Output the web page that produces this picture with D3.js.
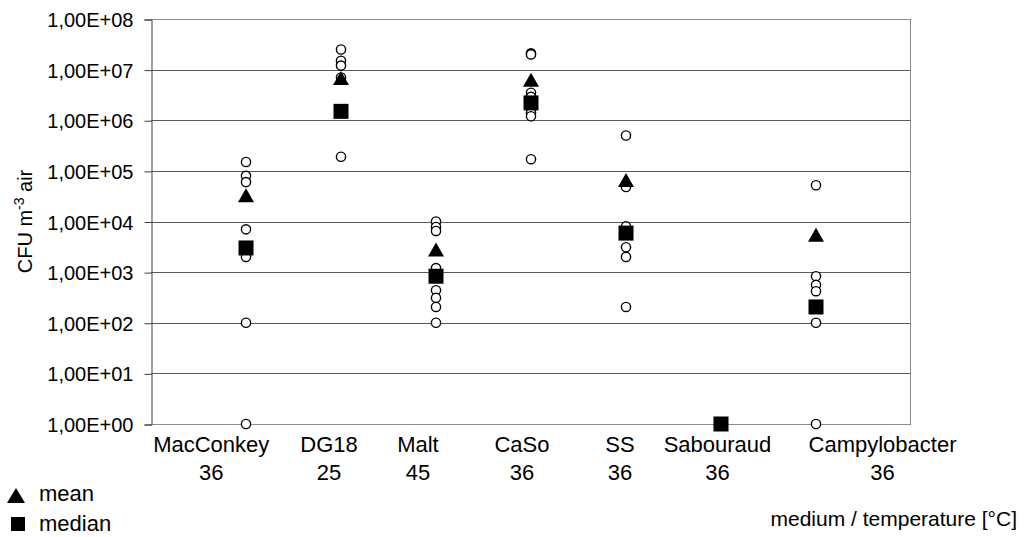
<!DOCTYPE html>
<html>
<head>
<meta charset="utf-8">
<script src="https://cdn.jsdelivr.net/npm/d3@7"></script>
<style>
  body { margin: 0; background: #fff; }
  text { font-family: "Liberation Sans", Arial, sans-serif; fill: #000; }
</style>
</head>
<body>
<div id="chart"></div>
<script>
// medium / incubation temperature
const categories = ["MacConkey", "DG18", "Malt", "CaSo", "SS", "Sabouraud", "Campylobacter"];
const temps = ["36", "25", "45", "36", "36", "36", "36"];

// single samples (CFU m-3 air)
const samples = [
    [150000, 80000, 60000, 7000, 3000, 2000, 100, 1],
    [25000000, 15000000, 12000000, 7000000, 1500000, 190000],
    [10000, 7800, 6500, 1200, 800, 440, 310, 205, 100],
    [21000000, 20000000, 3500000, 2900000, 1400000, 1200000, 170000],
    [500000, 48000, 8000, 3100, 2000, 205],
    [1],
    [52000, 830, 560, 420, 100, 1]
];
const means = [33000, 6800000, 2800, 6300000, 66000, null, 5500];
const medians = [3000, 1500000, 830, 2200000, 5900, 1, 205];

const yTicks = [1, 10, 100, 1e3, 1e4, 1e5, 1e6, 1e7, 1e8];

// where the category labels sit on the x scale (they are not centred on the points)
const labelAt = [0.634, 1.874, 2.81, 3.905, 4.937, 5.963, 7.70];

const width = 1025, height = 537;
const plotL = 151, plotR = 911, plotT = 19, plotB = 424;

const svg = d3.select("#chart").append("svg")
    .attr("width", width)
    .attr("height", height);

const x = d3.scaleLinear().domain([0, 8]).range([plotL, plotR]);
const y = d3.scaleLog().domain([1, 1e8]).range([plotB, plotT]);

const fmt = (v) => "1,00E+" + String(Math.round(Math.log10(v))).padStart(2, "0");

// gridlines
svg.append("g")
    .selectAll("line")
    .data(yTicks)
    .enter()
    .append("line")
    .attr("x1", plotL).attr("x2", plotR)
    .attr("y1", (d) => Math.round(y(d)) + 0.5)
    .attr("y2", (d) => Math.round(y(d)) + 0.5)
    .attr("stroke", "#595959");

// plot border (top, right, bottom)
svg.append("path")
    .attr("d", `M${plotL},${plotT + 0.5}H${plotR - 0.5}V${plotB + 0.5}H${plotL}`)
    .attr("fill", "none")
    .attr("stroke", "#8c8c8c");

// y axis
const yAxis = svg.append("g")
    .attr("transform", `translate(${plotL + 0.5},0.5)`)
    .call(d3.axisLeft(y)
        .tickValues(yTicks)
        .tickFormat(fmt)
        .tickSize(7)
        .tickPadding(11));
yAxis.select(".domain").attr("stroke", "#404040");
yAxis.selectAll(".tick line").attr("stroke", "#404040");
yAxis.selectAll(".tick text")
    .attr("font-size", 20)
    .attr("font-family", "Liberation Sans, Arial, sans-serif")
    .attr("fill", "#000")
    .attr("dy", "0.35em");

// y title
const yTitle = svg.append("text")
    .attr("transform", `translate(32,${(plotT + plotB) / 2}) rotate(-90)`)
    .attr("text-anchor", "middle")
    .attr("font-size", 20);
yTitle.append("tspan").text("CFU m");
yTitle.append("tspan").attr("font-size", 14).attr("dy", -8).text("-3");
yTitle.append("tspan").attr("dy", 8).text(" air");

// category labels
const labels = svg.append("g")
    .selectAll("text")
    .data(categories)
    .enter()
    .append("text")
    .attr("text-anchor", "middle")
    .attr("font-size", 22);
labels.append("tspan")
    .attr("x", (d, i) => x(labelAt[i]))
    .attr("y", 452)
    .text((d) => d);
labels.append("tspan")
    .attr("x", (d, i) => x(labelAt[i]))
    .attr("y", 480)
    .text((d, i) => temps[i]);

// single samples
const pts = [];
samples.forEach((arr, i) => arr.forEach((v) => pts.push({i : i, v : v})));

svg.append("g")
    .selectAll("circle")
    .data(pts)
    .enter()
    .append("circle")
    .attr("cx", (d) => x(d.i + 1))
    .attr("cy", (d) => y(d.v))
    .attr("r", 4.6)
    .attr("fill", "#fff")
    .attr("stroke", "#000")
    .attr("stroke-width", 1.4);

const tri = (w, h) => `M0,${-h / 2}L${w / 2},${h / 2}L${-w / 2},${h / 2}Z`;

// means
svg.append("g")
    .selectAll("path")
    .data(means.map((v, i) => ({i : i, v : v})).filter((d) => d.v != null))
    .enter()
    .append("path")
    .attr("d", tri(16, 14))
    .attr("transform", (d) => `translate(${x(d.i + 1)},${y(d.v)})`)
    .attr("fill", "#000");

// medians
svg.append("g")
    .selectAll("rect")
    .data(medians.map((v, i) => ({i : i, v : v})))
    .enter()
    .append("rect")
    .attr("x", (d) => x(d.i + 1) - 7.5)
    .attr("y", (d) => y(d.v) - 7.5)
    .attr("width", 15)
    .attr("height", 15)
    .attr("fill", "#000");

// legend
svg.append("path")
    .attr("d", tri(18, 15))
    .attr("transform", "translate(16,495.5)")
    .attr("fill", "#000");
svg.append("text").attr("x", 39).attr("y", 501).attr("font-size", 22).text("mean");
svg.append("rect")
    .attr("x", 11).attr("y", 517)
    .attr("width", 14).attr("height", 14)
    .attr("fill", "#000");
svg.append("text").attr("x", 39).attr("y", 531).attr("font-size", 22).text("median");

// x title
svg.append("text")
    .attr("x", 1017)
    .attr("y", 526)
    .attr("text-anchor", "end")
    .attr("font-size", 21)
    .text("medium / temperature [°C]");
</script>
</body>
</html>
